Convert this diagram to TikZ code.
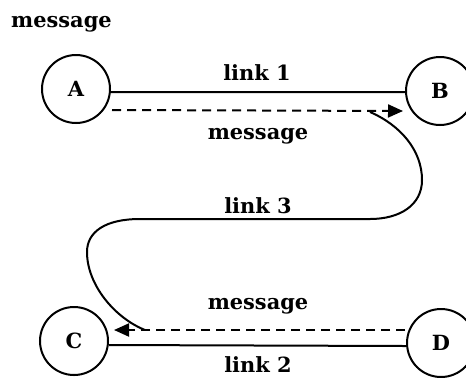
\documentclass[tikz,border=0pt]{standalone}
\usepackage{fontspec}
\setmainfont{DejaVu Serif}
\usetikzlibrary{arrows.meta}
\begin{document}
\begin{tikzpicture}[x=1bp,y=-1bp,
  station/.style={draw,circle,line width=2bp,minimum size=68bp,inner sep=0pt,font=\fontsize{21}{25}\selectfont\bfseries},
  linkline/.style={line width=2bp},
  msgline/.style={line width=2bp,dash pattern=on 9bp off 6bp,-{Triangle[length=15bp,width=13bp]}},
  lbl/.style={anchor=base,inner sep=0pt,font=\fontsize{21}{25}\selectfont\bfseries}]
\useasboundingbox (0,0) rectangle (466,377);
% stations
\node[station] (A) at (76,89) {A};
\node[station] (B) at (440,91) {B};
\node[station] (C) at (74,341) {C};
\node[station] (D) at (441,343) {D};
% title
\node[lbl,anchor=base west] (title) at (11,27) {message};
% links 1 and 2
\draw[linkline] ([yshift=-3bp]A.east) -- ([yshift=-1bp]B.west);
\draw[linkline] ([yshift=-4bp]C.east) -- ([yshift=-3bp]D.west);
\node[lbl] (l1) at (257,80) {link 1};
\node[lbl] (l2) at (258,372) {link 2};
% messages
\coordinate (a1) at (112,110);
\coordinate (b1) at (403,111);
\coordinate (d1) at (405,330);
\coordinate (c1) at (114,330);
\draw[msgline] (a1) -- (b1);
\draw[msgline] (d1) -- (c1);
\node[lbl] (m1) at (258,139) {message};
\node[lbl] (m2) at (258,309) {message};
% link 3
\coordinate (s3) at (370,112);
\coordinate (e3) at (145,330);
\draw[linkline] (s3) .. controls (400,125) and (422,150) .. (422,180)
  .. controls (422,205) and (400,219) .. (370,219) -- (140,219)
  .. controls (105,219) and (87,232) .. (87,252)
  .. controls (87,285) and (115,318) .. (e3);
\node[lbl] (l3) at (258,213) {link 3};
\end{tikzpicture}
\end{document}
